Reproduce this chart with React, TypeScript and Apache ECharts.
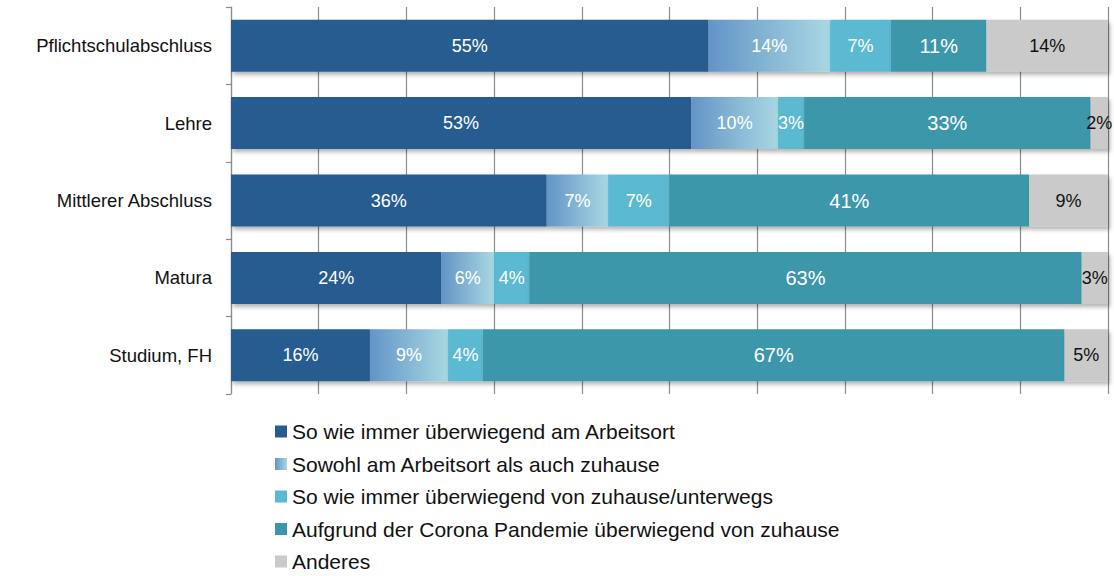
import React, { useEffect, useRef } from "react";
import * as echarts from "echarts";

const categories = [
  "Pflichtschulabschluss",
  "Lehre",
  "Mittlerer Abschluss",
  "Matura",
  "Studium, FH",
];

const seriesNames = [
  "So wie immer überwiegend am Arbeitsort",
  "Sowohl am Arbeitsort als auch zuhause",
  "So wie immer überwiegend von zuhause/unterwegs",
  "Aufgrund der Corona Pandemie überwiegend von zuhause",
  "Anderes",
];

const immerArbeitsort = [55, 53, 36, 24, 16];
const sowohl = [14, 10, 7, 6, 9];
const immerZuhause = [7, 3, 7, 4, 4];
const corona = [11, 33, 41, 63, 67];
const anderes = [14, 2, 9, 3, 5];

const FONT = "'Liberation Sans', Arial, sans-serif";

export default function App() {
  const ref = useRef<HTMLDivElement>(null);

  useEffect(() => {
    if (!ref.current) return;
    const chart = echarts.init(ref.current, null, { renderer: "svg" });

    const all = [immerArbeitsort, sowohl, immerZuhause, corona, anderes];
    const totals = categories.map((_, i) =>
      all.reduce((s, arr) => s + arr[i], 0)
    );

    const colors: any[] = [
      "#275C8F",
      new echarts.graphic.LinearGradient(0, 0, 1, 0, [
        { offset: 0, color: "#6394C7" },
        { offset: 1, color: "#A8D8E2" },
      ]),
      "#5BB9D2",
      "#3D97AB",
      "#CACACA",
    ];
    const labelColors = ["#fff", "#fff", "#fff", "#fff", "#111"];
    const labelSizes = [18, 18, 18, 20, 18];

    const series = all.map((arr, si) => ({
      name: seriesNames[si],
      type: "bar",
      stack: "total",
      barWidth: 52,
      data: arr.map((v, i) => ({ value: (v / totals[i]) * 100, raw: v })),
      itemStyle: {
        color: colors[si],
        shadowColor: "rgba(0,0,0,0.3)",
        shadowBlur: 4,
        shadowOffsetX: 2,
        shadowOffsetY: 3,
      },
      label: {
        show: true,
        position: "inside",
        color: labelColors[si],
        fontSize: labelSizes[si],
        fontFamily: FONT,
        formatter: (p: any) => p.data.raw + "%",
      },
    }));

    chart.setOption({
      animation: false,
      textStyle: { fontFamily: FONT },
      grid: { left: 231, right: 6, top: 7, bottom: 182, containLabel: false },
      xAxis: {
        type: "value",
        min: 0,
        max: 100,
        interval: 10,
        axisLabel: { show: false },
        axisLine: { show: false },
        axisTick: { show: false },
        splitLine: { show: true, lineStyle: { color: "#8c8c8c", width: 1.2 } },
      },
      yAxis: {
        type: "category",
        data: categories,
        inverse: true,
        axisLine: { show: true, lineStyle: { color: "#8c8c8c", width: 1.2 } },
        axisTick: { show: true, length: 5, lineStyle: { color: "#8c8c8c", width: 1.2 } },
        axisLabel: { color: "#111", fontSize: 18.5, fontFamily: FONT, margin: 19 },
      },
      legend: {
        orient: "vertical",
        left: 275,
        top: 421,
        padding: 0,
        height: 220,
        itemWidth: 12,
        itemHeight: 12,
        itemGap: 11.5,
        icon: "rect",
        textStyle: { color: "#111", fontSize: 21, fontFamily: FONT, lineHeight: 20 },
        data: seriesNames,
      },
      series,
    });

    return () => chart.dispose();
  }, []);

  return (
    <div
      ref={ref}
      style={{ position: "absolute", left: 0, top: 0, width: 1114, height: 576 }}
    />
  );
}
